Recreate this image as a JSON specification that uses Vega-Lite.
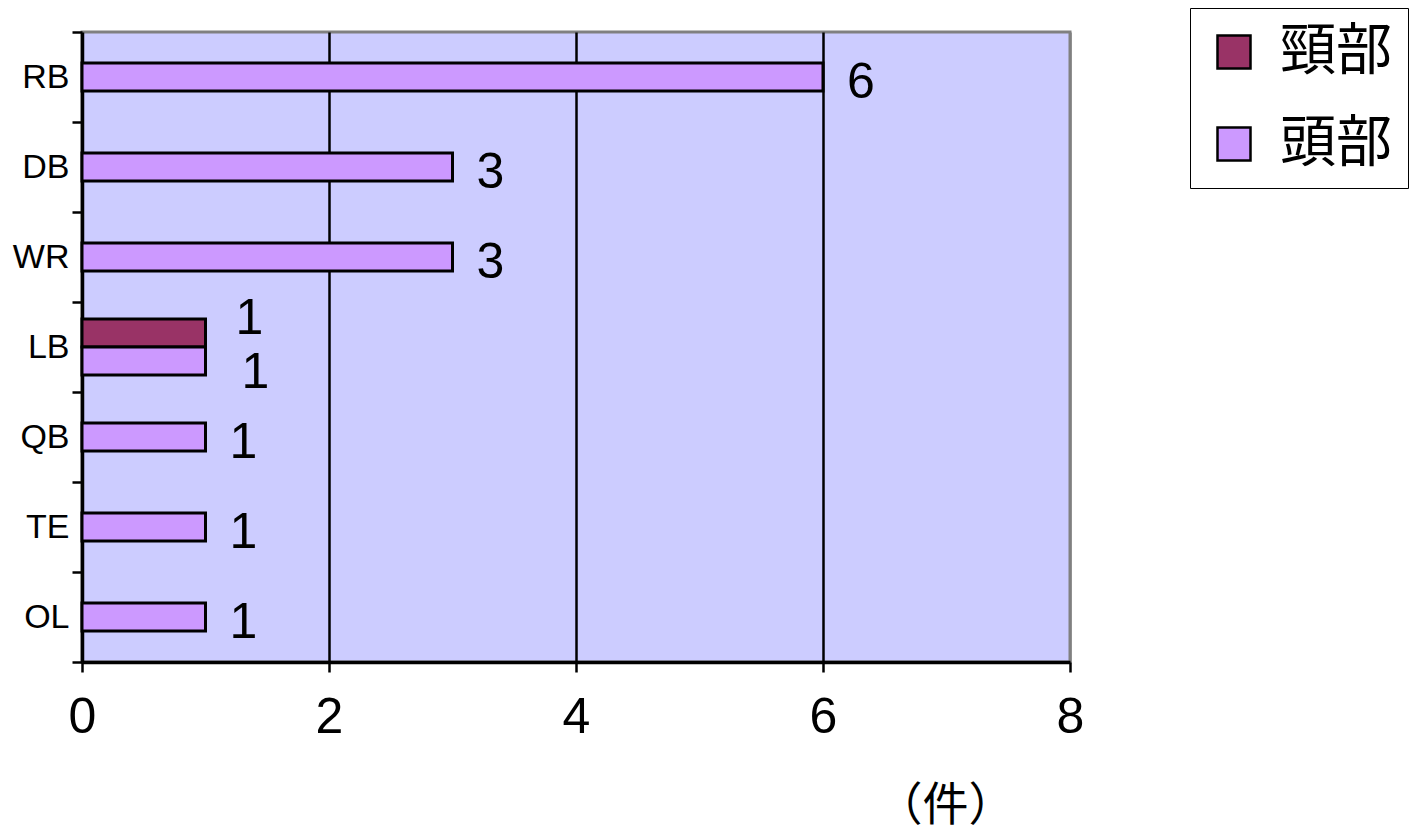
{
  "$schema": "https://vega.github.io/schema/vega-lite/v6.json",
  "width": 988,
  "height": 630,
  "autosize": {"type": "none"},
  "padding": {"left": 82, "top": 32, "right": 340, "bottom": 171},
  "background": "white",
  "config": {"view": {"fill": "#CCCCFF", "stroke": "#808080", "strokeWidth": 3}},
  "data": {"values": [
    {"pos": "RB", "part": "頭部", "n": 6},
    {"pos": "DB", "part": "頭部", "n": 3},
    {"pos": "WR", "part": "頭部", "n": 3},
    {"pos": "LB", "part": "頸部", "n": 1},
    {"pos": "LB", "part": "頭部", "n": 1},
    {"pos": "QB", "part": "頭部", "n": 1},
    {"pos": "TE", "part": "頭部", "n": 1},
    {"pos": "OL", "part": "頭部", "n": 1}
  ]},
  "encoding": {
    "y": {
      "field": "pos", "type": "nominal",
      "sort": ["RB", "DB", "WR", "LB", "QB", "TE", "OL"],
      "scale": {"paddingInner": 0, "paddingOuter": 0},
      "axis": {
        "title": null, "labelFont": "Liberation Sans", "labelFontSize": 34, "labelColor": "black",
        "domainColor": "black", "domainWidth": 3.5, "ticks": true, "tickBand": "extent",
        "tickSize": 10, "tickColor": "black", "tickWidth": 2.5, "labelPadding": 3, "grid": false
      }
    },
    "x": {
      "field": "n", "type": "quantitative",
      "scale": {"domain": [0, 8], "nice": false},
      "axis": {
        "values": [0, 2, 4, 6, 8], "title": "（件）",
        "titleFont": "Noto Sans CJK JP", "titleFontSize": 46, "titleFontWeight": "normal", "titleColor": "black",
        "titleX": 863, "titleY": 143, "titleAlign": "center", "titleBaseline": "middle", "titleAngle": 0,
        "labelFont": "Liberation Sans", "labelFontSize": 50, "labelColor": "black", "labelPadding": 20,
        "labelFlush": false,
        "tickSize": 10, "tickColor": "black", "tickWidth": 2.5,
        "domainColor": "black", "domainWidth": 3.5,
        "grid": true, "gridWidth": 2.5,
        "gridColor": {"condition": {"test": "datum.value == 0 || datum.value == 8", "value": "#808080"}, "value": "black"}
      }
    },
    "color": {
      "field": "part", "type": "nominal",
      "scale": {"domain": ["頸部", "頭部"], "range": ["#993366", "#CC99FF"]},
      "legend": {
        "orient": "none", "legendX": 1108, "legendY": -24, "title": null,
        "strokeColor": "black", "fillColor": "white", "padding": 16,
        "symbolType": "square", "symbolSize": 1089, "symbolStrokeColor": "black", "symbolStrokeWidth": 2.5,
        "symbolOpacity": 1,
        "labelFont": "Noto Sans CJK JP", "labelFontSize": 56, "labelColor": "black",
        "rowPadding": 36, "labelOffset": 18, "labelLimit": 0
      }
    }
  },
  "layer": [
    {
      "transform": [{"filter": "datum.pos != 'LB'"}],
      "mark": {"type": "bar", "height": 28, "stroke": "black", "strokeWidth": 3, "opacity": 1}
    },
    {
      "transform": [{"filter": "datum.pos == 'LB'"}],
      "mark": {"type": "bar", "stroke": "black", "strokeWidth": 3, "opacity": 1},
      "encoding": {
        "yOffset": {"field": "part", "type": "nominal", "sort": ["頸部", "頭部"],
          "scale": {"paddingInner": 0, "paddingOuter": 0.607}}
      }
    },
    {
      "transform": [{"filter": "datum.pos != 'LB'"}],
      "mark": {"type": "text", "align": "left", "baseline": "middle", "dx": 24, "dy": 6,
        "font": "Liberation Sans", "fontSize": 50},
      "encoding": {"text": {"field": "n", "type": "quantitative"}, "color": {"value": "black"}}
    },
    {
      "transform": [{"filter": "datum.pos == 'LB' && datum.part == '頸部'"}],
      "mark": {"type": "text", "align": "left", "baseline": "middle", "dx": 30, "dy": -14,
        "font": "Liberation Sans", "fontSize": 50},
      "encoding": {
        "yOffset": {"field": "part", "type": "nominal", "sort": ["頸部", "頭部"],
          "scale": {"domain": ["頸部", "頭部"], "paddingInner": 0, "paddingOuter": 0.607}},
        "text": {"field": "n", "type": "quantitative"}, "color": {"value": "black"}
      }
    },
    {
      "transform": [{"filter": "datum.pos == 'LB' && datum.part == '頭部'"}],
      "mark": {"type": "text", "align": "left", "baseline": "middle", "dx": 36, "dy": 12,
        "font": "Liberation Sans", "fontSize": 50},
      "encoding": {
        "yOffset": {"field": "part", "type": "nominal", "sort": ["頸部", "頭部"],
          "scale": {"domain": ["頸部", "頭部"], "paddingInner": 0, "paddingOuter": 0.607}},
        "text": {"field": "n", "type": "quantitative"}, "color": {"value": "black"}
      }
    }
  ]
}
